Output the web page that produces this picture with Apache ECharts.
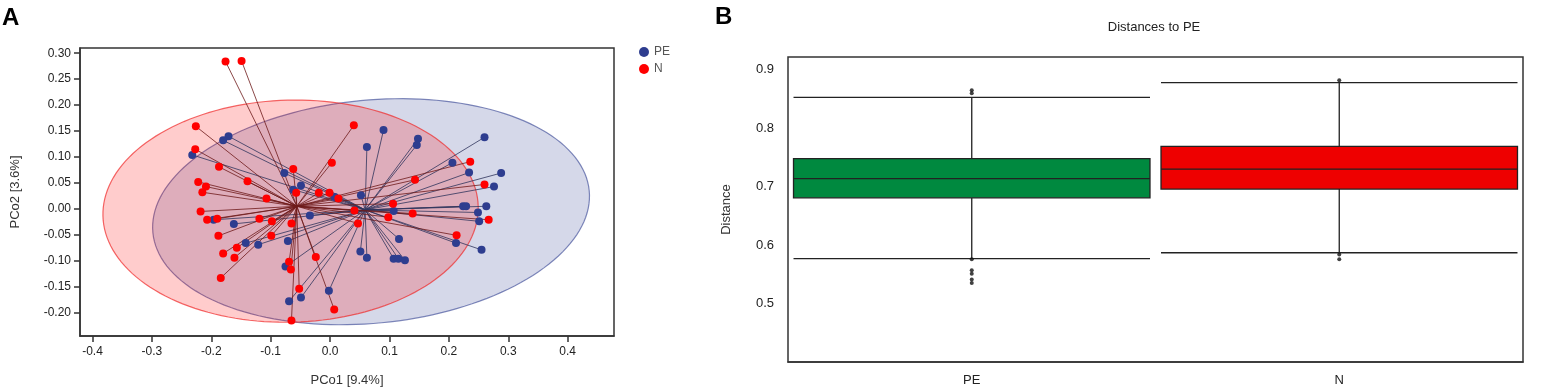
<!DOCTYPE html>
<html>
<head>
<meta charset="utf-8">
<script src="https://cdn.jsdelivr.net/npm/echarts@6/dist/echarts.min.js"></script>
<style>
html, body { margin: 0; padding: 0; background: #fff; }
#main { width: 1550px; height: 392px; }
</style>
</head>
<body>
<div id="main"></div>
<script>
// PCoA points (panel A)
var peX = [-0.171,-0.180,-0.232,-0.077,-0.049,-0.062,0.090,0.062,0.148,0.146,0.260,0.206,0.234,0.288,0.276,0.052,0.008,0.224,0.229,0.263,-0.196,-0.162,-0.034,-0.142,-0.121,-0.071,-0.075,-0.002,-0.069,-0.049,0.107,0.249,0.251,0.116,0.212,0.255,0.051,0.062,0.107,0.115,0.126];
var peY = [0.140,0.132,0.104,0.069,0.045,0.037,0.152,0.119,0.135,0.123,0.138,0.089,0.070,0.069,0.043,0.026,0.023,0.005,0.005,0.005,-0.021,-0.029,-0.013,-0.066,-0.069,-0.062,-0.111,-0.158,-0.178,-0.171,-0.004,-0.007,-0.024,-0.058,-0.066,-0.079,-0.082,-0.094,-0.096,-0.096,-0.099];
var nX = [-0.176,-0.149,-0.226,-0.227,-0.187,-0.139,-0.222,-0.209,-0.215,-0.062,0.003,-0.057,-0.019,-0.001,0.040,0.236,0.143,0.260,0.014,-0.107,0.106,-0.218,-0.207,-0.190,-0.119,-0.098,-0.065,-0.188,-0.099,-0.157,-0.180,-0.161,-0.024,-0.069,-0.066,-0.184,-0.052,0.007,-0.065,0.041,0.098,0.139,0.047,0.267,0.213];
var nY = [0.284,0.285,0.159,0.115,0.081,0.053,0.052,0.043,0.032,0.077,0.089,0.031,0.031,0.031,0.161,0.091,0.056,0.047,0.020,0.020,0.010,-0.005,-0.021,-0.019,-0.019,-0.024,-0.028,-0.052,-0.052,-0.075,-0.086,-0.094,-0.093,-0.102,-0.117,-0.133,-0.154,-0.194,-0.215,-0.003,-0.016,-0.009,-0.028,-0.021,-0.051];
var peCentroid = [0.059, -0.002];
var nCentroid = [-0.056, 0.005];
// ellipse: centre x, centre y, semi-axis x, semi-axis y, tilt (deg)
var ellipsePE = [0.069, -0.0055, 0.369, 0.215, 5.5];
var ellipseN = [-0.0665, -0.0044, 0.316, 0.214, 1.5];
var pcoXTicks = [-0.4,-0.3,-0.2,-0.1,0,0.1,0.2,0.3,0.4];
var pcoYTicks = [-0.2,-0.15,-0.1,-0.05,0,0.05,0.1,0.15,0.2,0.25,0.3];

// distances boxplot (panel B): [min, Q1, median, Q3, max]
var groups = ['PE', 'N'];
var boxPE = [0.577, 0.681, 0.714, 0.748, 0.853];
var boxN = [0.587, 0.696, 0.730, 0.769, 0.878];
var outPE = [0.865, 0.860, 0.576, 0.557, 0.551, 0.541, 0.535];
var outN = [0.882, 0.584, 0.576];
var distTicks = [0.5, 0.6, 0.7, 0.8, 0.9];

var chart = echarts.init(document.getElementById('main'));
var FONT = 'Liberation Sans, Arial, sans-serif';

function zip(xs, ys) {
    return xs.map(function (x, i) { return [x, ys[i]]; });
}
function spider(xs, ys, c) {
    return xs.map(function (x, i) { return { coords: [[x, ys[i]], c] }; });
}
function ellipseRender(fill, stroke) {
    return function (params, api) {
        var c = api.coord([api.value(0), api.value(1)]);
        var s = api.size([api.value(2), api.value(3)]);
        var th = api.value(4) * Math.PI / 180;
        var pts = [];
        for (var i = 0; i < 160; i++) {
            var t = i / 160 * 2 * Math.PI;
            var dx = s[0] * Math.cos(t), dy = s[1] * Math.sin(t);
            pts.push([c[0] + dx * Math.cos(th) - dy * Math.sin(th),
                      c[1] - (dx * Math.sin(th) + dy * Math.cos(th))]);
        }
        return { type: 'polygon', shape: { points: pts }, style: { fill: fill, stroke: stroke, lineWidth: 1.2 } };
    };
}

var axisLineStyle = { color: '#333', width: 1.5 };

var option = {
    animation: false,
    textStyle: { fontFamily: FONT },
    graphic: [
        { type: 'text', x: 2, y: 6, style: { text: 'A', font: 'bold 24px ' + FONT, fill: '#000' } },
        { type: 'text', x: 715, y: 5, style: { text: 'B', font: 'bold 24px ' + FONT, fill: '#000' } },
        { type: 'text', x: 1154, y: 21, style: { text: 'Distances to PE', font: '13px ' + FONT, fill: '#222', textAlign: 'center', align: 'center' } }
    ],
    legend: {
        data: ['PE', 'N'],
        orient: 'vertical',
        left: 639, top: 46,
        padding: 0,
        itemWidth: 10, itemHeight: 10, itemGap: 5,
        icon: 'circle',
        textStyle: { fontSize: 12, color: '#555', fontFamily: FONT }
    },
    grid: [
        { left: 80, top: 48, width: 534, height: 291, show: true, borderColor: '#333', borderWidth: 1.5 },
        { left: 788, top: 57, width: 735, height: 305, show: true, borderColor: '#333', borderWidth: 1.5 }
    ],
    xAxis: [{
        gridIndex: 0, type: 'value', min: -0.421, max: 0.478,
        name: 'PCo1 [9.4%]', nameLocation: 'middle', nameGap: 38,
        nameTextStyle: { fontSize: 13, color: '#333' },
        axisLine: { onZero: false, lineStyle: axisLineStyle },
        axisTick: { length: 6, lineStyle: axisLineStyle, customValues: pcoXTicks },
        axisLabel: { fontSize: 12, color: '#222', margin: 10, customValues: pcoXTicks,
            formatter: function (v) { return v.toFixed(1); } },
        splitLine: { show: false }
    }, {
        gridIndex: 1, type: 'category', data: groups, boundaryGap: true,
        axisLine: { onZero: false, lineStyle: axisLineStyle },
        axisTick: { alignWithLabel: true, length: 6, lineStyle: axisLineStyle },
        axisLabel: { fontSize: 13, color: '#222', margin: 12 },
        splitLine: { show: false }
    }],
    yAxis: [{
        gridIndex: 0, type: 'value', min: -0.245, max: 0.310,
        name: 'PCo2 [3.6%]', nameLocation: 'middle', nameGap: 58,
        nameTextStyle: { fontSize: 13, color: '#333' },
        axisLine: { onZero: false, lineStyle: axisLineStyle },
        axisTick: { length: 6, lineStyle: axisLineStyle, customValues: pcoYTicks },
        axisLabel: { fontSize: 12, color: '#222', margin: 9, customValues: pcoYTicks,
            formatter: function (v) { return v.toFixed(2); } },
        splitLine: { show: false }
    }, {
        gridIndex: 1, type: 'value', min: 0.40, max: 0.922,
        name: 'Distance', nameLocation: 'middle', nameGap: 55,
        nameTextStyle: { fontSize: 13, color: '#333' },
        axisLine: { onZero: false, lineStyle: axisLineStyle },
        axisTick: { length: 10, lineStyle: axisLineStyle, customValues: distTicks },
        axisLabel: { fontSize: 13, color: '#222', margin: 14, customValues: distTicks,
            formatter: function (v) { return v.toFixed(1); } },
        splitLine: { show: false }
    }],
    series: [
        { type: 'custom', xAxisIndex: 0, yAxisIndex: 0, z: 1, silent: true,
          renderItem: ellipseRender('rgba(46,61,143,0.2)', 'rgba(46,61,143,0.6)'),
          encode: { x: 0, y: 1 }, data: [ellipsePE] },
        { type: 'custom', xAxisIndex: 0, yAxisIndex: 0, z: 1, silent: true,
          renderItem: ellipseRender('rgba(255,0,0,0.2)', 'rgba(240,40,40,0.7)'),
          encode: { x: 0, y: 1 }, data: [ellipseN] },
        { type: 'lines', coordinateSystem: 'cartesian2d', xAxisIndex: 0, yAxisIndex: 0, z: 2, silent: true,
          lineStyle: { color: '#2f345c', width: 1, opacity: 0.8 },
          data: spider(peX, peY, peCentroid) },
        { type: 'lines', coordinateSystem: 'cartesian2d', xAxisIndex: 0, yAxisIndex: 0, z: 2, silent: true,
          lineStyle: { color: '#6e1a1a', width: 1, opacity: 0.8 },
          data: spider(nX, nY, nCentroid) },
        { name: 'PE', type: 'scatter', xAxisIndex: 0, yAxisIndex: 0, z: 3,
          symbolSize: 8, itemStyle: { color: '#2e3d8f', opacity: 1 },
          data: zip(peX, peY) },
        { name: 'N', type: 'scatter', xAxisIndex: 0, yAxisIndex: 0, z: 3,
          symbolSize: 8, itemStyle: { color: '#ff0000', opacity: 1 },
          data: zip(nX, nY) },
        { type: 'boxplot', xAxisIndex: 1, yAxisIndex: 1, boxWidth: ['97%', '97%'],
          itemStyle: { borderColor: '#222', borderWidth: 1.3 },
          data: [
              { value: boxPE, itemStyle: { color: '#00893f' } },
              { value: boxN, itemStyle: { color: '#ee0000' } }
          ] },
        { type: 'scatter', xAxisIndex: 1, yAxisIndex: 1, symbolSize: 4, z: 5,
          itemStyle: { color: '#111' },
          data: outPE.map(function (v) { return ['PE', v]; }).concat(outN.map(function (v) { return ['N', v]; })) }
    ]
};
chart.setOption(option);
</script>
</body>
</html>
